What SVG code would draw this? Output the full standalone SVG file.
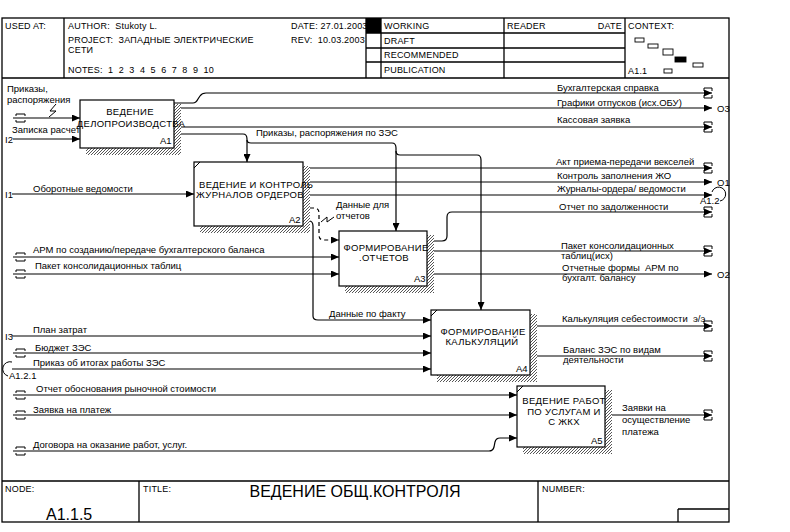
<svg xmlns="http://www.w3.org/2000/svg" width="790" height="532" viewBox="0 0 790 532">
<style>
text{font-family:"Liberation Sans",Arial,sans-serif;fill:#000}
.h{font-size:9px;letter-spacing:0.2px}
.l{font-size:9.5px}
.b{font-size:9.5px;text-anchor:middle;letter-spacing:0.3px}
.n{font-size:9.5px}
.frame{fill:none;stroke:#000;stroke-width:1.3}
.ln{fill:none;stroke:#000;stroke-width:1.2}
.arr{fill:none;stroke:#000;stroke-width:1.2;marker-end:url(#ah)}
.dash{fill:none;stroke:#000;stroke-width:1.2;stroke-dasharray:4 3;marker-end:url(#ah)}
.tun{fill:none;stroke:#000;stroke-width:1}
.box{fill:#fff;stroke:#000;stroke-width:1.2}
.sh{fill:url(#hatch)}
.big{font-size:16px}
</style>
<defs>
<marker id="ah" markerWidth="8" markerHeight="7" refX="8" refY="3.5" orient="auto" markerUnits="userSpaceOnUse">
<path d="M0,0 L8,3.5 L0,7 Z" fill="#000"/>
</marker>
<pattern id="hatch" width="3" height="3" patternUnits="userSpaceOnUse">
<rect width="3" height="3" fill="#fff"/>
<path d="M0,3 L3,0" stroke="#444" stroke-width="0.9"/>
</pattern>
</defs>
<rect width="790" height="532" fill="#fff"/>

<g id="frame">
<rect class="frame" x="2" y="18" width="727" height="504"/>
<path class="frame" d="M2,78 H729 M64,18 V78 M366,18 V78 M381,18 V78 M504,18 V78 M625,18 V78 M366,33 H625 M366,48 H625 M366,62 H625"/>
<rect x="366" y="18" width="15" height="15" fill="#000"/>
<path class="frame" d="M2,481 H729 M139,481 V522 M538,481 V522 M678,509 H729 M678,509 V522"/>
<text class="h" x="5" y="29">USED AT:</text>
<text class="h" x="68" y="29" xml:space="preserve">AUTHOR:  Stukoty L.</text>
<text class="h" x="291" y="29">DATE: 27.01.2003</text>
<text class="h" x="68" y="43" xml:space="preserve">PROJECT:  ЗАПАДНЫЕ ЭЛЕКТРИЧЕСКИЕ</text>
<text class="h" x="68" y="53">СЕТИ</text>
<text class="h" x="291" y="43" xml:space="preserve">REV:  10.03.2003</text>
<text class="h" x="68" y="73" xml:space="preserve">NOTES:  1  2  3  4  5  6  7  8  9  10</text>
<text class="h" x="384" y="29">WORKING</text>
<text class="h" x="384" y="44">DRAFT</text>
<text class="h" x="384" y="58">RECOMMENDED</text>
<text class="h" x="384" y="73">PUBLICATION</text>
<text class="h" x="507" y="29">READER</text>
<text class="h" x="622" y="29" text-anchor="end">DATE</text>
<text class="h" x="628" y="29">CONTEXT:</text>
<text class="h" x="628" y="74">A1.1</text>
<g fill="#fff" stroke="#000" stroke-width="0.9">
<rect x="635" y="38" width="9" height="4"/>
<rect x="648" y="44" width="10" height="4"/>
<rect x="663" y="49" width="10" height="6"/>
<rect x="675" y="57" width="11" height="5" fill="#000"/>
<rect x="693" y="63" width="10" height="4"/>
<rect x="664" y="69" width="8" height="4"/>
</g>
<text class="h" x="5" y="492">NODE:</text>
<text class="h" x="143" y="492">TITLE:</text>
<text class="h" x="542" y="492">NUMBER:</text>
<text class="big" x="46" y="520">A1.1.5</text>
<text class="big" x="355" y="497" text-anchor="middle">ВЕДЕНИЕ ОБЩ.КОНТРОЛЯ</text>
</g>

<g id="connectors">
<path class="arr" d="M13,118 H80"/>
<path class="tun" d="M16,116 v-2 h9 v2 M16,120 v2 h9 v-2"/>
<path class="tun" d="M56,104 L50,111 L56,111 L49,117"/>
<path class="arr" d="M13,139 H80"/>
<path class="arr" d="M174,103 H193 Q196,103 198,99 L200,96 Q202,93 206,93 H712"/>
<path class="arr" d="M174,108 H712"/>
<path class="arr" d="M174,127 H712"/>
<path class="arr" d="M174,134 H243 Q247,134 247,139 V162"/>
<path class="arr" d="M247,140 Q247,143 251,143 H392 Q396,143 396,148 V231"/>
<path class="arr" d="M396,151 Q396,155 400,155 H477 Q481,155 481,160 V310"/>
<path class="arr" d="M12,194 H194"/>
<path class="arr" d="M303,168 H712"/>
<path class="arr" d="M303,182 H712"/>
<path class="arr" d="M303,195 H712"/>
<path class="tun" d="M712,192 A7,7 0 1 1 720,201"/>
<path class="dash" d="M303,208 H314 Q319,208 319,213 V235 Q319,240 324,240 H339"/>
<path class="tun" d="M321,222 L327,217 L327,222 L334,217"/>
<path class="arr" d="M303,221 H309 Q313,221 313,226 V316 Q313,320 318,320 H431"/>
<path class="arr" d="M13,257 H339"/>
<path class="tun" d="M16,255 v-2 h9 v2 M16,259 v2 h9 v-2"/>
<path class="arr" d="M13,274 H339"/>
<path class="tun" d="M16,272 v-2 h9 v2 M16,276 v2 h9 v-2"/>
<path class="arr" d="M427,241 H442 Q447,241 447,236 V217 Q447,212 452,212 H712"/>
<path class="arr" d="M427,251 H712"/>
<path class="arr" d="M427,274 H712"/>
<path class="arr" d="M12,336 H431"/>
<path class="arr" d="M13,353 H431"/>
<path class="tun" d="M16,351 v-2 h9 v2 M16,355 v2 h9 v-2"/>
<path class="arr" d="M12,369 H431"/>
<path class="tun" d="M12,362 A7,7 0 0 0 8,376"/>
<path class="arr" d="M530,326 H712"/>
<path class="arr" d="M530,356 H712"/>
<path class="arr" d="M13,395 H517"/>
<path class="tun" d="M16,393 v-2 h9 v2 M16,397 v2 h9 v-2"/>
<path class="arr" d="M13,415 H517"/>
<path class="tun" d="M16,413 v-2 h9 v2 M16,417 v2 h9 v-2"/>
<path class="arr" d="M13,451 H489 Q493,451 494,447 L495,442 Q496,438 500,438 H517"/>
<path class="tun" d="M16,449 v-2 h9 v2 M16,453 v2 h9 v-2"/>
<path class="arr" d="M605,415 H712"/>
<path class="tun" d="M704,91 v-3 h8 v3 M704,95 v3 h8 v-3"/>
<path class="tun" d="M704,125 v-3 h8 v3 M704,129 v3 h8 v-3"/>
<path class="tun" d="M704,166 v-3 h8 v3 M704,170 v3 h8 v-3"/>
<path class="tun" d="M704,210 v-3 h8 v3 M704,214 v3 h8 v-3"/>
<path class="tun" d="M704,249 v-3 h8 v3 M704,253 v3 h8 v-3"/>
<path class="tun" d="M704,324 v-3 h8 v3 M704,328 v3 h8 v-3"/>
<path class="tun" d="M704,354 v-3 h8 v3 M704,358 v3 h8 v-3"/>
<path class="tun" d="M704,413 v-3 h8 v3 M704,417 v3 h8 v-3"/>
<text class="l" x="7" y="92">Приказы,</text>
<text class="l" x="7" y="103">распоряжения</text>
<text class="l" x="12" y="133">Записка расчет</text>
<text class="l" x="5" y="143">I2</text>
<text class="l" x="5" y="198">I1</text>
<text class="l" x="33" y="192">Оборотные ведомости</text>
<text class="l" x="256" y="136">Приказы, распоряжения по ЗЭС</text>
<text class="l" x="557" y="91">Бухгалтерская справка</text>
<text class="l" x="557" y="106">Графики отпусков (исх.ОБУ)</text>
<text class="l" x="717" y="112">O3</text>
<text class="l" x="557" y="123">Кассовая заявка</text>
<text class="l" x="556" y="165">Акт приема-передачи векселей</text>
<text class="l" x="557" y="179">Контроль заполнения ЖО</text>
<text class="l" x="717" y="186">O1</text>
<text class="l" x="557" y="192">Журналы-ордера/ ведомости</text>
<text class="l" x="700" y="204">A1.2</text>
<text class="l" x="336" y="208">Данные для</text>
<text class="l" x="336" y="219">отчетов</text>
<text class="l" x="559" y="210">Отчет по задолженности</text>
<text class="l" x="33" y="253">АРМ по созданию/передаче бухгалтерского баланса</text>
<text class="l" x="35" y="269">Пакет консолидационных таблиц</text>
<text class="l" x="561" y="249">Пакет консолидационных</text>
<text class="l" x="561" y="259">таблиц(исх)</text>
<text class="l" x="562" y="271" xml:space="preserve">Отчетные формы  АРМ по</text>
<text class="l" x="562" y="281">бухгалт. балансу</text>
<text class="l" x="717" y="278">O2</text>
<text class="l" x="329" y="317">Данные по факту</text>
<text class="l" x="33" y="333">План затрат</text>
<text class="l" x="5" y="340">I3</text>
<text class="l" x="35" y="351">Бюджет ЗЭС</text>
<text class="l" x="33" y="366">Приказ об итогах работы ЗЭС</text>
<text class="l" x="9" y="379">A1.2.1</text>
<text class="l" x="562" y="322" xml:space="preserve">Калькуляция себестоимости  э/э</text>
<text class="l" x="563" y="353">Баланс ЗЭС по видам</text>
<text class="l" x="563" y="363">деятельности</text>
<text class="l" x="36" y="392">Отчет обоснования рыночной стоимости</text>
<text class="l" x="33" y="413">Заявка на платеж</text>
<text class="l" x="33" y="448">Договора на оказание работ, услуг.</text>
<text class="l" x="622" y="411">Заявки на</text>
<text class="l" x="622" y="423">осуществление</text>
<text class="l" x="622" y="435">платежа</text>
</g>

<g id="A1">
<path class="sh" d="M174,104 H181 V155 H86 V148 H174 Z"/>
<rect class="box" x="80" y="100" width="94" height="48"/>
<text class="b" x="130" y="115">ВЕДЕНИЕ</text>
<text class="b" x="131" y="127">ДЕЛОПРОИЗВОДСТВА</text>
<text class="n" x="160" y="144">A1</text>
</g>
<g id="A2">
<path class="sh" d="M303,166 H310 V233 H200 V226 H303 Z"/>
<rect class="box" x="194" y="162" width="109" height="64"/>
<path class="tun" d="M194,168 L200,162"/>
<text class="l" x="199" y="188" letter-spacing="0.3">ВЕДЕНИЕ И КОНТРОЛЬ</text>
<text class="b" x="250" y="198">ЖУРНАЛОВ ОРДЕРОВ</text>
<text class="n" x="289" y="223">A2</text>
</g>
<g id="A3">
<path class="sh" d="M427,235 H434 V293 H345 V286 H427 Z"/>
<rect class="box" x="339" y="231" width="88" height="55"/>
<text class="b" x="386" y="251">ФОРМИРОВАНИЕ</text>
<text class="b" x="384" y="261">.ОТЧЕТОВ</text>
<text class="n" x="414" y="282">A3</text>
</g>
<g id="A4">
<path class="sh" d="M530,314 H537 V382 H437 V375 H530 Z"/>
<rect class="box" x="431" y="310" width="99" height="65"/>
<path class="tun" d="M431,316 L437,310"/>
<text class="b" x="483" y="335">ФОРМИРОВАНИЕ</text>
<text class="b" x="482" y="345">КАЛЬКУЛЯЦИЙ</text>
<text class="n" x="516" y="372">A4</text>
</g>
<g id="A5">
<path class="sh" d="M605,390 H612 V454 H523 V447 H605 Z"/>
<rect class="box" x="517" y="386" width="88" height="61"/>
<path class="tun" d="M517,392 L523,386"/>
<text class="b" x="564" y="404">ВЕДЕНИЕ РАБОТ</text>
<text class="b" x="564" y="415">ПО УСЛУГАМ И</text>
<text class="b" x="564" y="425">С ЖКХ</text>
<text class="n" x="591" y="444">A5</text>
</g>
</svg>
